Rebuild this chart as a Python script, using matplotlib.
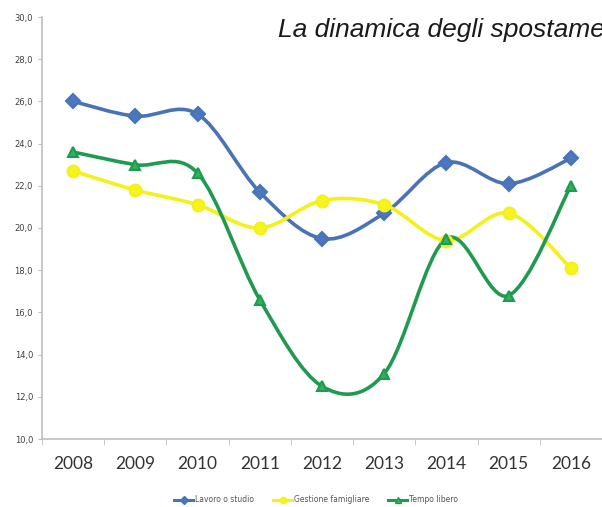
import matplotlib
matplotlib.use("Agg")
import matplotlib.pyplot as plt
from matplotlib.path import Path
from matplotlib.patches import PathPatch
from matplotlib.lines import Line2D
from matplotlib.ticker import FuncFormatter

# dati
anni = ['2008', '2009', '2010', '2011', '2012', '2013', '2014', '2015', '2016']
lavoro = [26.0, 25.3, 25.4, 21.7, 19.5, 20.7, 23.1, 22.1, 23.3]
gestione = [22.7, 21.8, 21.1, 20.0, 21.3, 21.1, 19.4, 20.7, 18.1]
tempo_libero = [23.6, 23.0, 22.6, 16.6, 12.5, 13.1, 19.5, 16.8, 22.0]

nomi = ['Lavoro o studio', 'Gestione famigliare', 'Tempo libero']
colori_linea = ['#4a73b5', '#f4f01a', '#1f9a50']
colori_marker = ['#4a78c0', '#f7f31c', '#2fb35a']
marker = ['D', 'o', '^']
dim_marker = [7, 8.5, 7.5]


def linea_smussata(xs, ys):
    # curva tipo Excel (Bezier con tangenti Catmull-Rom)
    verts = [(xs[0], ys[0])]
    codes = [Path.MOVETO]
    n = len(xs)
    for i in range(n - 1):
        x0, y0 = (xs[i - 1], ys[i - 1]) if i > 0 else (xs[i], ys[i])
        x1, y1 = xs[i], ys[i]
        x2, y2 = xs[i + 1], ys[i + 1]
        x3, y3 = (xs[i + 2], ys[i + 2]) if i + 2 < n else (x2, y2)
        c1 = (x1 + (x2 - x0) / 6, y1 + (y2 - y0) / 6)
        c2 = (x2 - (x3 - x1) / 6, y2 - (y3 - y1) / 6)
        verts += [c1, c2, (x2, y2)]
        codes += [Path.CURVE4] * 3
    return Path(verts, codes)


fig = plt.figure(figsize=(6.02, 5.07), dpi=100)
ax = fig.add_axes([42 / 602, (507 - 439) / 507, (602 - 42) / 602, (439 - 17) / 507])

x = list(range(len(anni)))
serie = [lavoro, gestione, tempo_libero]
for vals, cl, cm, mk, ms in zip(serie, colori_linea, colori_marker, marker, dim_marker):
    ax.add_patch(PathPatch(linea_smussata(x, vals), fill=False, edgecolor=cl, lw=2.6, zorder=2))
    ax.plot(x, vals, linestyle='none', marker=mk, ms=ms, markerfacecolor=cm,
            markeredgecolor=cl, markeredgewidth=1.5, zorder=3)

ax.set_xlim(-0.5, 8.32)
ax.set_ylim(10, 30)
ax.set_yticks(range(10, 31, 2))
ax.yaxis.set_major_formatter(FuncFormatter(lambda v, p: f'{v:.1f}'.replace('.', ',')))
ax.set_xticks(x)
ax.set_xticklabels(anni, family='Lato')
ax.set_xticks([i - 0.5 for i in range(len(anni) + 1)], minor=True)

for s in ['top', 'right']:
    ax.spines[s].set_visible(False)
for s in ['left', 'bottom']:
    ax.spines[s].set_color('#bfbfbf')
    ax.spines[s].set_linewidth(1.2)

ax.tick_params(axis='y', labelsize=6, colors='#404040', length=3, color='#bfbfbf')
ax.tick_params(axis='x', which='major', length=0, labelsize=12.5, labelcolor='#333333', pad=12)
ax.tick_params(axis='x', which='minor', length=4, color='#bfbfbf')

fig.text(278 / 602, 1 - 30 / 507, 'La dinamica degli spostamenti', fontsize=19,
         style='italic', family='Liberation Sans', color='#1a1a1a', va='center', ha='left')

handles = [Line2D([], [], color=cl, lw=2.2, marker=mk, ms=4.5, markerfacecolor=cm,
                  markeredgecolor=cl) for cl, cm, mk in zip(colori_linea, colori_marker, marker)]
fig.legend(handles, nomi, loc='center', bbox_to_anchor=(0.525, 1 - 500 / 507), ncol=3,
           frameon=False, fontsize=5.5, handlelength=2.5, handletextpad=0.2,
           columnspacing=2.5, labelcolor='#555555')

fig.savefig('out.png', dpi=100)
